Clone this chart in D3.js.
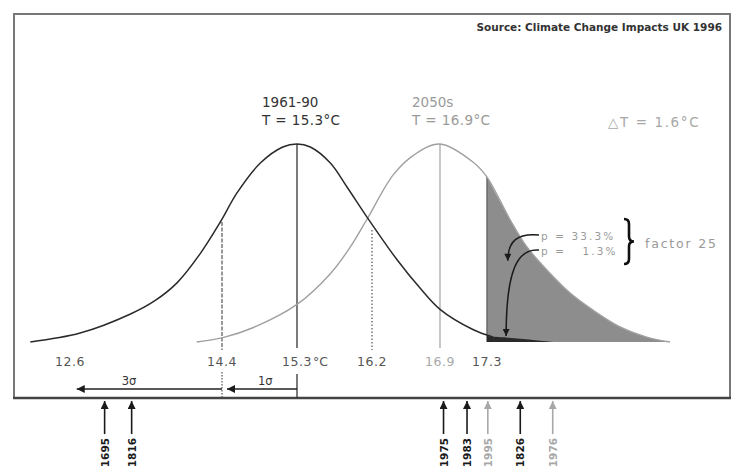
<!DOCTYPE html>
<html>
<head>
<meta charset="UTF-8">
<style>
  body { margin: 0; background: #fff; }
  svg { display: block; font-family: "DejaVu Sans", sans-serif; }
</style>
</head>
<body>
<svg id="chart"></svg>
<script src="https://d3js.org/d3.v7.min.js"></script>
<script>
// temperatures marked under the curves
const tickTemps = [12.6, 14.4, 15.3, 16.2, 16.9, 17.3];
const tickLabels = ["12.6", "14.4", "15.3", "16.2", "16.9", "17.3"];
const tickUnits = ["", "", "°C", "", "", ""];
const tickFaded = [false, false, false, false, true, false];

// the two climates
const periodNames = ["1961-90", "2050s"];
const periodMeans = [15.3, 16.9];
const periodTitles = ["T = 15.3°C", "T = 16.9°C"];
const deltaLabel = "△T = 1.6°C";
const sourceLabel = "Source: Climate Change Impacts UK 1996";
const threshold = 17.3;

// 1961-90 curve (temperature, height relative to the peak)
const baseTemps = [12.13, 12.72, 13.31, 13.61, 13.87, 14.14, 14.38, 14.58, 14.86, 15.13, 15.3, 15.46, 15.70, 15.90, 16.14, 16.46, 16.69, 16.9, 17.18, 17.37];
const baseHeights = [0, 0.045, 0.14, 0.21, 0.30, 0.445, 0.606, 0.753, 0.904, 0.985, 1, 0.985, 0.904, 0.783, 0.631, 0.414, 0.275, 0.165, 0.063, 0.025];
// its tail beyond the threshold (p = 1.3%)
const tailTemps = [17.3, 17.4, 17.55, 17.7, 17.85, 18.1];
const tailHeights = [0.03, 0.026, 0.022, 0.016, 0.01, 0];

// 2050s curve
const futureTemps = [14.10, 14.41, 14.77, 15.3, 15.70, 15.94, 16.14, 16.42, 16.63, 16.9, 17.18, 17.3, 17.58, 17.78, 18.02, 18.30, 18.57, 18.90, 19.22, 19.50];
const futureHeights = [0, 0.022, 0.072, 0.19, 0.345, 0.48, 0.62, 0.845, 0.944, 1, 0.909, 0.833, 0.616, 0.480, 0.364, 0.247, 0.162, 0.076, 0.025, 0];

// sigma spans
const sigmaLabels = ["3σ", "1σ"];
const sigmaFrom = [14.4, 15.3];
const sigmaTo = [12.68, 14.46];
const sigmaLabelTemps = [13.3, 14.92];

// probabilities above the threshold
const probLabels = ["p = 33.3%", "p =   1.3%"];
const probTargetTemps = [17.55, 17.53];
const probTargetHeights = [0.40, 0.02];
const factorLabel = "factor 25";

// hot and cold summers
const years = ["1695", "1816", "1975", "1983", "1995", "1826", "1976"];
const yearTemps = [13.01, 13.33, 16.93, 17.13, 17.31, 17.70, 18.09];
const yearFaded = [false, false, false, false, true, false, true];

const width = 738, height = 472;
const svg = d3.select("#chart").attr("width", width).attr("height", height);

// the drawing is not to scale, so the axis is piecewise
const x = d3.scaleLinear()
    .domain([...tickTemps, 19.5])
    .range([70, 222, 297, 372, 440, 487, 670]);
const y = d3.scaleLinear().domain([0, 1]).range([342, 144]);

const defs = svg.append("defs");
function marker(id, color, w, h) {
  defs.append("marker")
      .attr("id", id)
      .attr("viewBox", "0 0 10 10")
      .attr("refX", 10).attr("refY", 5)
      .attr("markerWidth", w).attr("markerHeight", h)
      .attr("markerUnits", "userSpaceOnUse")
      .attr("orient", "auto")
    .append("path")
      .attr("d", "M0,0 L10,5 L0,10 z")
      .attr("fill", color);
}
marker("headBlack", "#1a1a1a", 9, 8);
marker("headGray", "#a8a8a8", 9, 8);
marker("headSmall", "#1a1a1a", 8, 7);

// frame
svg.append("rect")
    .attr("x", 14).attr("y", 14).attr("width", 716).attr("height", 384)
    .attr("fill", "none").attr("stroke", "#777").attr("stroke-width", 2);
svg.append("line")
    .attr("x1", 13).attr("x2", 731).attr("y1", 398).attr("y2", 398)
    .attr("stroke", "#444").attr("stroke-width", 2.5);

svg.append("text")
    .attr("x", 722).attr("y", 31)
    .attr("text-anchor", "end")
    .attr("font-size", 10.5).attr("font-weight", "bold")
    .attr("fill", "#333")
    .text(sourceLabel);

const line = d3.line().x(d => x(d[0])).y(d => y(d[1])).curve(d3.curveCatmullRom.alpha(0.5));
const area = d3.area().x(d => x(d[0])).y0(y(0)).y1(d => y(d[1])).curve(d3.curveCatmullRom.alpha(0.5));

const base = baseTemps.map((t, i) => [t, baseHeights[i]]);
const future = futureTemps.map((t, i) => [t, futureHeights[i]]);
const tail = tailTemps.map((t, i) => [t, tailHeights[i]]);
const shaded = future.filter(d => d[0] >= threshold);

// vertical guides
svg.append("line")
    .attr("x1", x(periodMeans[1])).attr("x2", x(periodMeans[1]))
    .attr("y1", y(1)).attr("y2", 348)
    .attr("stroke", "#b0b0b0").attr("stroke-width", 1.4);
svg.append("line")
    .attr("x1", x(periodMeans[0])).attr("x2", x(periodMeans[0]))
    .attr("y1", y(1)).attr("y2", 348)
    .attr("stroke", "#333").attr("stroke-width", 1.3);
svg.append("line")
    .attr("x1", x(14.4)).attr("x2", x(14.4))
    .attr("y1", y(0.606)).attr("y2", 350)
    .attr("stroke", "#555").attr("stroke-width", 1.2)
    .attr("stroke-dasharray", "4,1.5");
svg.append("line")
    .attr("x1", x(16.2)).attr("x2", x(16.2))
    .attr("y1", 230).attr("y2", 350)
    .attr("stroke", "#555").attr("stroke-width", 1.2)
    .attr("stroke-dasharray", "1.5,2");

// shaded tail of the 2050s curve
svg.append("path")
    .datum(shaded)
    .attr("d", area)
    .attr("fill", "#8d8d8d");
svg.append("line")
    .attr("x1", x(threshold)).attr("x2", x(threshold))
    .attr("y1", y(shaded[0][1])).attr("y2", y(0))
    .attr("stroke", "#6a6a6a").attr("stroke-width", 1.5);

svg.append("path")
    .datum(future)
    .attr("d", line)
    .attr("fill", "none")
    .attr("stroke", "#a0a0a0").attr("stroke-width", 1.4);

svg.append("path")
    .datum(tail)
    .attr("d", area)
    .attr("fill", "#2a2a2a");

svg.append("path")
    .datum(base)
    .attr("d", line)
    .attr("fill", "none")
    .attr("stroke", "#2a2a2a").attr("stroke-width", 1.5);

// period titles
periodNames.forEach((name, i) => {
  const color = i === 0 ? "#333" : "#9a9a9a";
  const tx = i === 0 ? 262 : 412;
  svg.append("text")
      .attr("x", tx).attr("y", 107)
      .attr("font-size", 13.5).attr("fill", color)
      .text(name);
  svg.append("text")
      .attr("x", tx).attr("y", 125)
      .attr("font-size", 13.5).attr("fill", color)
      .attr("letter-spacing", 0.4)
      .text(periodTitles[i]);
});
svg.append("text")
    .attr("x", 608).attr("y", 127)
    .attr("font-size", 13.5).attr("fill", "#a8a8a8")
    .attr("letter-spacing", 1.6)
    .text(deltaLabel);

// temperature labels
const tickG = svg.append("g");
tickTemps.forEach((t, i) => {
  const txt = tickG.append("text")
      .attr("x", x(t)).attr("y", 366)
      .attr("text-anchor", "middle")
      .attr("font-size", 12.5)
      .attr("letter-spacing", 0.6)
      .attr("fill", tickFaded[i] ? "#a8a8a8" : "#555")
      .text(tickLabels[i]);
  if (tickUnits[i]) {
    const w = txt.node().getComputedTextLength();
    tickG.append("text")
        .attr("x", x(t) + w / 2 + 1).attr("y", 366)
        .attr("font-size", 12.5)
        .attr("fill", "#555")
        .text(tickUnits[i]);
  }
});

// sigma arrows
svg.append("line")
    .attr("x1", x(14.4)).attr("x2", x(14.4)).attr("y1", 372).attr("y2", 398)
    .attr("stroke", "#555").attr("stroke-width", 1.2).attr("stroke-dasharray", "1.5,1.5");
svg.append("line")
    .attr("x1", x(15.3)).attr("x2", x(15.3)).attr("y1", 374).attr("y2", 398)
    .attr("stroke", "#333").attr("stroke-width", 1.3);
sigmaLabels.forEach((lab, i) => {
  svg.append("line")
      .attr("x1", x(sigmaFrom[i])).attr("x2", x(sigmaTo[i]))
      .attr("y1", 389).attr("y2", 389)
      .attr("stroke", "#222").attr("stroke-width", 1.6)
      .attr("marker-end", "url(#headBlack)");
  svg.append("text")
      .attr("x", x(sigmaLabelTemps[i])).attr("y", 385)
      .attr("text-anchor", "middle")
      .attr("font-size", 11.5).attr("fill", "#333")
      .text(lab);
});

// probability notes
probLabels.forEach((lab, i) => {
  const ly = i === 0 ? 240 : 255;
  svg.append("text")
      .attr("x", 541).attr("y", ly)
      .attr("font-size", 10.5).attr("fill", "#9a9a9a")
      .attr("letter-spacing", 2.1)
      .style("white-space", "pre")
      .text(lab);
  const sx = 539, sy = ly - 5;
  const tx = x(probTargetTemps[i]), ty = y(probTargetHeights[i]) - 2;
  const path = d3.path();
  path.moveTo(sx, sy);
  path.bezierCurveTo(sx - 22, sy - 2, tx, sy + (ty - sy) * 0.25, tx, ty);
  svg.append("path")
      .attr("d", path.toString())
      .attr("fill", "none")
      .attr("stroke", "#1a1a1a").attr("stroke-width", 1.5)
      .attr("marker-end", "url(#headSmall)");
});

// brace and factor
const bx = 624, by0 = 219, by1 = 264, bm = (by0 + by1) / 2, bw = 5;
const brace = d3.path();
brace.moveTo(bx, by0);
brace.quadraticCurveTo(bx + bw, by0, bx + bw, by0 + 5);
brace.lineTo(bx + bw, bm - 5);
brace.quadraticCurveTo(bx + bw, bm, bx + 2 * bw, bm);
brace.quadraticCurveTo(bx + bw, bm, bx + bw, bm + 5);
brace.lineTo(bx + bw, by1 - 5);
brace.quadraticCurveTo(bx + bw, by1, bx, by1);
svg.append("path")
    .attr("d", brace.toString())
    .attr("fill", "none")
    .attr("stroke", "#111").attr("stroke-width", 2.6);
svg.append("text")
    .attr("x", 645).attr("y", 248)
    .attr("font-size", 12.5).attr("fill", "#9a9a9a")
    .attr("letter-spacing", 1.8)
    .text(factorLabel);

// year arrows
years.forEach((yr, i) => {
  const yx = x(yearTemps[i]);
  const color = yearFaded[i] ? "#a8a8a8" : "#1a1a1a";
  svg.append("line")
      .attr("x1", yx).attr("x2", yx).attr("y1", 434).attr("y2", 401)
      .attr("stroke", color).attr("stroke-width", 1.6)
      .attr("marker-end", yearFaded[i] ? "url(#headGray)" : "url(#headBlack)");
  svg.append("text")
      .attr("transform", `translate(${yx},438) rotate(-90)`)
      .attr("text-anchor", "end")
      .attr("dominant-baseline", "central")
      .attr("font-size", 10.5).attr("font-weight", "bold")
      .attr("fill", color)
      .text(yr);
});
</script>
</body>
</html>
